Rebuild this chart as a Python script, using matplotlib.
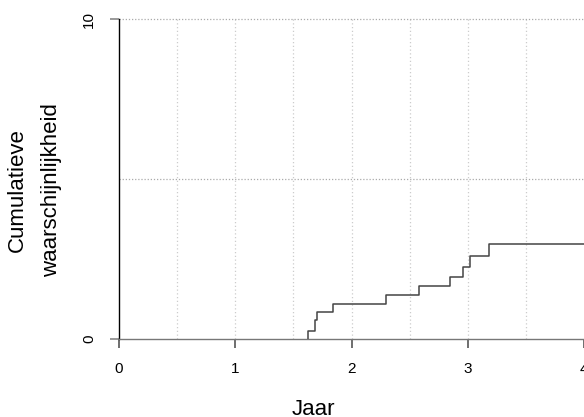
import matplotlib.pyplot as plt

plt.rcParams['font.family'] = ['Liberation Sans', 'DejaVu Sans']

# Cumulatieve incidentie (stapfunctie)
jaar = [1.63, 1.69, 1.70, 1.84, 2.30, 2.58, 2.85, 2.96, 3.02, 3.18, 4.2]
kans = [0.26, 0.60, 0.83, 1.09, 1.38, 1.67, 1.95, 2.26, 2.58, 2.97, 2.97]
xticks = [0, 1, 2, 3, 4]
yticks = [0, 10]

W, H = 584, 417
fig = plt.figure(figsize=(W / 100, H / 100), dpi=100)
ax = fig.add_axes([119 / W, 78 / H, 465 / W, 320 / H])

xs = [jaar[0]] + jaar
ys = [0] + kans
ax.step(xs, ys, where='post', color='#444444', lw=1.1, zorder=3)

ax.set_xlim(0, 4.0)
ax.set_ylim(0, 10)

# stippellijnen
for gx in [0.5, 1, 1.5, 2, 2.5, 3, 3.5]:
    ax.axvline(gx, color='#cccccc', lw=0.9, ls=(0, (1, 2)), zorder=1)
for gy in [5, 10]:
    ax.axhline(gy, color='#aaaaaa', lw=0.9, ls=(0, (1, 1.5)), zorder=1, clip_on=False)

for s in ['top', 'right']:
    ax.spines[s].set_visible(False)
ax.spines['left'].set_color('black')
ax.spines['left'].set_linewidth(1.0)
ax.spines['bottom'].set_color('#777777')
ax.spines['bottom'].set_linewidth(1.0)

ax.set_xticks(xticks)
ax.set_xticklabels([str(t) for t in xticks], fontsize=11)
ax.set_yticks(yticks)
ax.set_yticklabels([str(t) for t in yticks], fontsize=11, rotation=90, va='center')
ax.tick_params(axis='x', length=6.5, width=1.2, color='#555555', pad=10)
ax.tick_params(axis='y', length=6.5, width=1.2, color='#888888', pad=10)

fig.text(313 / W, 2 / H, 'Jaar', fontsize=16, ha='center', va='baseline')
fig.text(17.5 / W, 1 - 190 / H, 'Cumulatieve', fontsize=16, rotation=90,
         ha='center', va='center')
fig.text(52 / W, 1 - 190 / H, 'waarschijnlijkheid', fontsize=16, rotation=90,
         ha='center', va='center')

fig.savefig('out.png', dpi=100)
